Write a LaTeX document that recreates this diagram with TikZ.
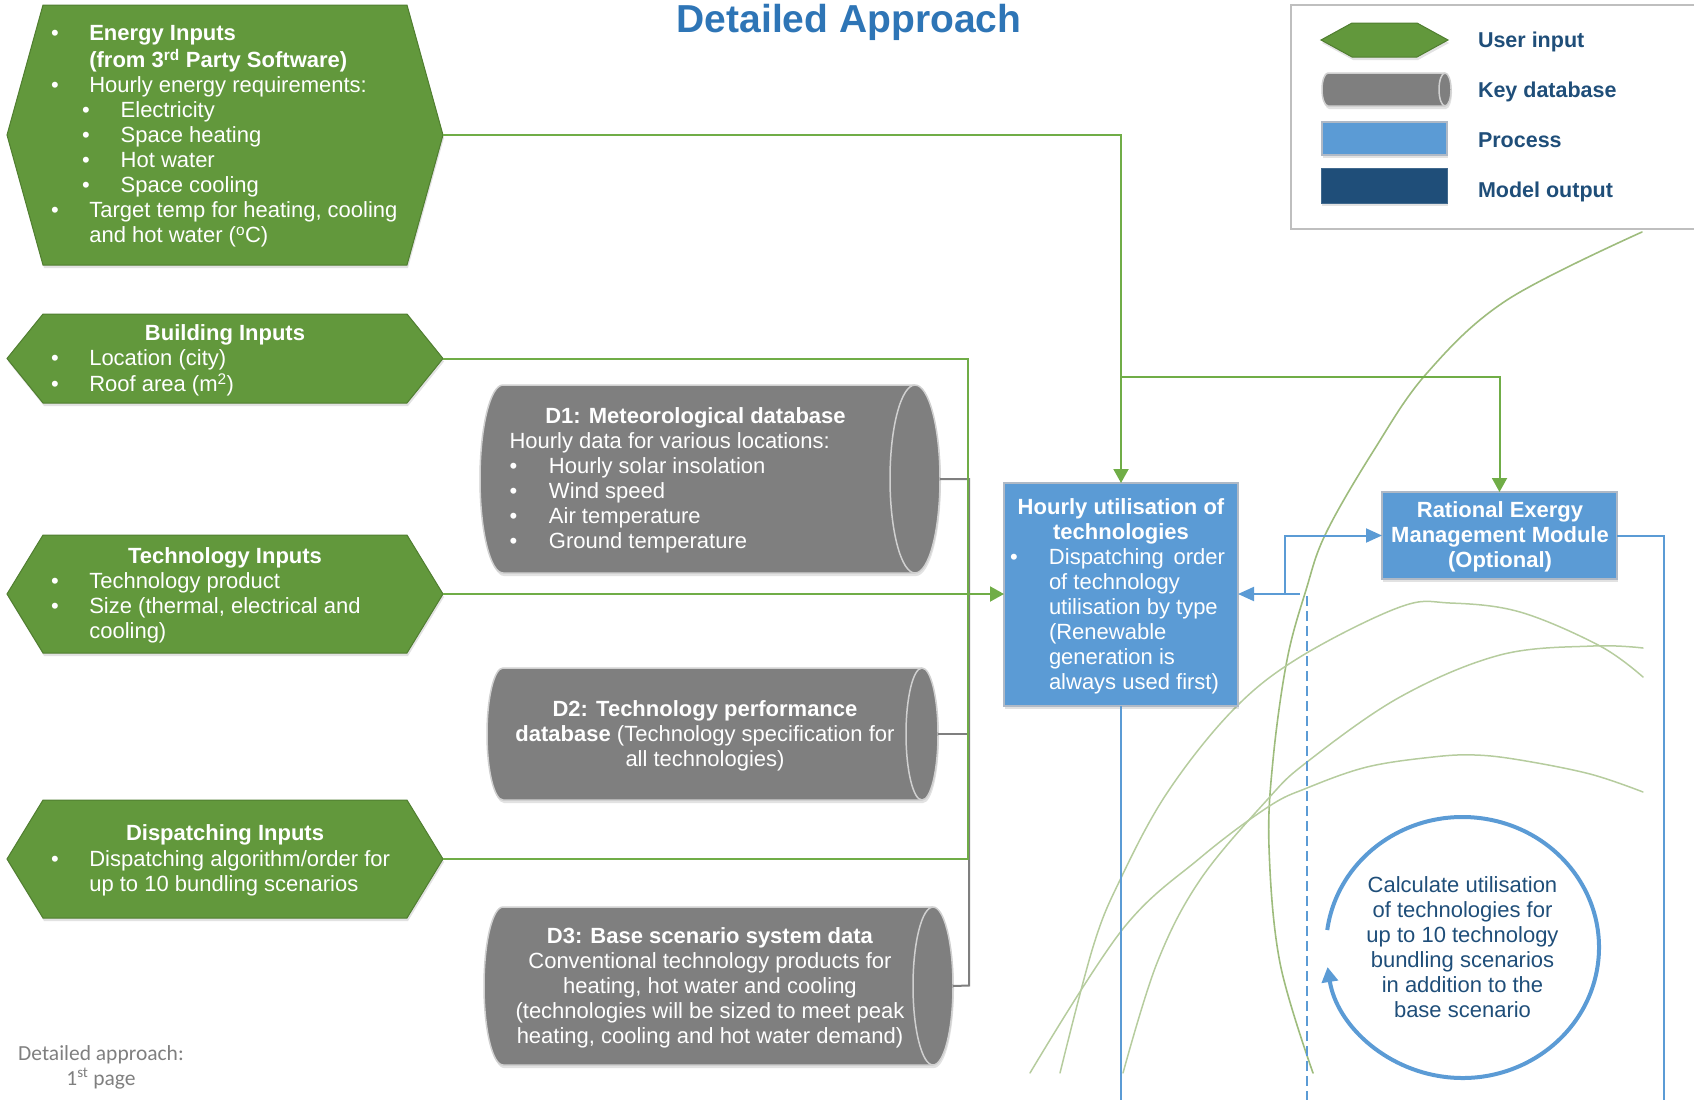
\documentclass[tikz,border=0pt]{standalone}
\usepackage{fontspec}
\setmainfont{Liberation Sans}
\newfontfamily\footfont{Carlito}
\usetikzlibrary{arrows.meta,shadows}

\definecolor{ugreen}{RGB}{98,152,60}
\definecolor{ugreenedge}{RGB}{80,126,48}
\definecolor{lgreen}{RGB}{112,173,71}
\definecolor{dbgray}{RGB}{127,127,127}
\definecolor{dbedge}{RGB}{208,208,208}
\definecolor{procblue}{RGB}{91,155,213}
\definecolor{procedge}{RGB}{175,185,198}
\definecolor{outnavy}{RGB}{31,78,121}
\definecolor{titleblue}{RGB}{46,117,182}
\definecolor{arcgreen}{RGB}{182,204,158}
\definecolor{arcgreenB}{RGB}{158,188,125}
\definecolor{footgray}{RGB}{127,127,127}
\definecolor{frame}{RGB}{191,191,191}

% bullet rows: first-level and second-level
\newcommand\lstbul[2][38.3pt]{\makebox[#1][l]{\textbullet}#2}
\newcommand\lstsub[1]{\makebox[69.7pt][l]{\hspace{31pt}\textbullet}#1}

% user-input hexagon: name, left corner x, right corner x, top y, bottom y, tip inset
\newcommand\hexin[6]{%
  \pgfmathsetmacro\hexmid{-(#4+#5)/2}%
  \filldraw[userin] (#2,-#4) -- (#3,-#4) -- ({#3+#6},\hexmid) -- (#3,-#5)
    -- (#2,-#5) -- ({#2-#6},\hexmid) -- cycle;
  \coordinate (#1-e) at ({#3+#6},\hexmid);
}
% key-database cylinder: name, left x, right x, top y, bottom y, left rx, right rx
\newcommand\dbcyl[7]{%
  \pgfmathsetmacro\cylmid{-(#4+#5)/2}%
  \pgfmathsetmacro\cylry{(#5-#4)/2}%
  \filldraw[keydb] (#2,-#4) -- (#3,-#4)
    arc[start angle=90,end angle=-90,x radius=#7,y radius=\cylry]
    -- (#2,-#5)
    arc[start angle=270,end angle=90,x radius=#6,y radius=\cylry] -- cycle;
  \draw[keydbrim] (#3,-#4) arc[start angle=90,end angle=270,x radius=#7,y radius=\cylry];
  \coordinate (#1-e) at ({#3+#7},\cylmid);
}

\begin{document}
\begin{tikzpicture}[x=1pt,y=1pt,
  every node/.style={inner sep=0pt,outer sep=0pt},
  body/.style={font=\fontsize{22}{25}\selectfont},
  bodyb/.style={font=\fontsize{22}{25}\selectfont\bfseries},
  wtxt/.style={body,text=white},
  wbold/.style={bodyb,text=white},
  navytxt/.style={body,text=outnavy},
  legtxt/.style={font=\fontsize{21.5}{25}\selectfont\bfseries,text=outnavy,anchor=base west},
  titlefont/.style={font=\fontsize{39}{45}\selectfont\bfseries,anchor=base},
  softshadow/.style={drop shadow={shadow xshift=1pt,shadow yshift=-3pt,opacity=0.16,fill=black!70}},
  userin/.style={fill=ugreen,draw=ugreenedge,line width=1pt,softshadow},
  keydb/.style={fill=dbgray,draw=dbedge,line width=1.5pt,softshadow},
  keydbrim/.style={draw=dbedge,line width=1.5pt},
  procbox/.style={rectangle,fill=procblue,draw=procedge,line width=1.5pt,softshadow},
  outbox/.style={rectangle,fill=outnavy,draw=outnavy!85,line width=1pt,softshadow},
  gconn/.style={draw=lgreen,line width=2pt},
  dconn/.style={draw=dbgray,line width=2pt},
  bconn/.style={draw=procblue,line width=2pt},
  gtip/.style={-{Triangle[length=14pt,width=15pt]}},
  btip/.style={-{Triangle[length=16pt,width=14pt]}},
  deco/.style={draw=arcgreen,line width=1.5pt,line cap=round},
  decoA/.style={draw=arcgreenB,line width=1.6pt,line cap=round},
  loopln/.style={draw=procblue,line width=4pt,-{Triangle[length=15pt,width=16pt]}}
]
\useasboundingbox (0,0) rectangle (1694,-1100);
\clip (0,0) rectangle (1694,-1100);

% ---------- decorative background arcs ----------
\draw[decoA] plot[smooth,tension=0.6] coordinates {(1642,-232) (1507,-300) (1427,-373) (1374,-450)
  (1326,-533) (1306,-590) (1287,-660) (1273,-760) (1269,-847) (1280,-963) (1313,-1073)};
\draw[deco] plot[smooth,tension=0.6] coordinates {(1030,-1073) (1122,-930) (1200,-858) (1268,-807)
  (1307,-788) (1367,-767) (1433,-757) (1475,-755) (1520,-760) (1590,-774) (1643,-792)};
\draw[deco] plot[smooth,tension=0.6] coordinates {(1060,-1073) (1093,-947) (1120,-880) (1167,-793)
  (1233,-710) (1300,-657) (1400,-607) (1450,-603) (1520,-612) (1600,-646) (1643,-677)};
\draw[deco] plot[smooth,tension=0.6] coordinates {(1123,-1073) (1157,-963) (1200,-880) (1267,-800)
  (1307,-762) (1400,-697) (1500,-655) (1593,-646) (1643,-648)};

% ---------- user inputs ----------
\hexin{energy}{43}{407}{5}{265}{36}
\hexin{bld}{43}{407}{314}{403}{36}
\hexin{tech}{43}{407}{535}{653}{36}
\hexin{disp}{43}{407}{800}{918}{36}

\node[wtxt,anchor=north west,align=left] (energy-txt) at (51,-23.2)
  {\strut\lstbul{\textbf{Energy Inputs}}\\
   \hspace*{38.3pt}\textbf{(from 3\textsuperscript{rd} Party Software)}\\
   \lstbul{Hourly energy requirements:}\\
   \lstsub{Electricity}\\
   \lstsub{Space heating}\\
   \lstsub{Hot water}\\
   \lstsub{Space cooling}\\
   \lstbul{Target temp for heating, cooling}\\
   \hspace*{38.3pt}and hot water (\textsuperscript{o}C)};

\node[wbold,anchor=base] (bld-head) at (225,-340) {Building Inputs};
\node[wtxt,anchor=north west,align=left] (bld-txt) at (51,-347.5)
  {\strut\lstbul{Location (city)}\\ \lstbul{Roof area (m\textsuperscript{2})}};

\node[wbold,anchor=base] (tech-head) at (225,-563.3) {Technology Inputs};
\node[wtxt,anchor=north west,align=left] (tech-txt) at (51,-570.8)
  {\strut\lstbul{Technology product}\\ \lstbul{Size (thermal, electrical and}\\
   \hspace*{38.3pt}cooling)};

\node[wbold,anchor=base] (disp-head) at (225,-840.7) {Dispatching Inputs};
\node[wtxt,anchor=north west,align=left] (disp-txt) at (51,-848.5)
  {\strut\lstbul{Dispatching algorithm/order for}\\ \hspace*{38.3pt}up to 10 bundling scenarios};

% ---------- key databases ----------
\dbcyl{d1}{503}{915}{385}{573}{23}{25}
\dbcyl{d2}{503}{922}{668}{800}{16}{16}
\dbcyl{d3}{503}{933}{907}{1065}{19}{20}

\node[wbold,anchor=base] (d1-head) at (695.5,-423.3) {D1: Meteorological database};
\node[wtxt,anchor=north west,align=left] (d1-txt) at (509.5,-430.8)
  {\strut Hourly data for various locations:\\
   \lstbul[39.5pt]{Hourly solar insolation}\\
   \lstbul[39.5pt]{Wind speed}\\
   \lstbul[39.5pt]{Air temperature}\\
   \lstbul[39.5pt]{Ground temperature}};

\node[wtxt,anchor=north,align=center] (d2-txt) at (705,-698.5)
  {\strut\textbf{D2: Technology performance}\\
   \textbf{database} (Technology specification for\\ all technologies)};

\node[wtxt,anchor=north,align=center] (d3-txt) at (710,-925.8)
  {\strut\textbf{D3: Base scenario system data}\\
   Conventional technology products for\\
   heating, hot water and cooling\\
   (technologies will be sized to meet peak\\
   heating, cooling and hot water demand)};

% ---------- processes ----------
\node[procbox,minimum width=234pt,minimum height=223pt] (hourly) at (1121,-594.5) {};
\node[wbold,anchor=north,align=center] (hourly-head) at (1121,-496.5)
  {\strut Hourly utilisation of\\ technologies};
\node[wtxt,anchor=north west,align=left] (hourly-txt) at (1010,-546.5)
  {\strut\lstbul[39pt]{\makebox[176pt][s]{Dispatching order}}\\
   \hspace*{39pt}of technology\\
   \hspace*{39pt}utilisation by type\\
   \hspace*{39pt}(Renewable\\
   \hspace*{39pt}generation is\\
   \hspace*{39pt}always used first)};

\node[procbox,minimum width=235pt,minimum height=87pt] (remm) at (1499.5,-535.5) {};
\node[wbold,anchor=north,align=center] (remm-txt) at (1500,-499.5)
  {\strut Rational Exergy\\ Management Module\\ (Optional)};

% ---------- connectors ----------
\coordinate (dbus-b) at (969,-985.5);
\draw[dconn] (d1-e) -| (dbus-b) -- (d3-e);
\draw[dconn] (d2-e) -- (d2-e -| dbus-b);

\coordinate (gbus-t) at (967.5,-358.5);
\coordinate (gbus-b) at (967.5,-859);
\draw[gconn] (bld-e) -- (gbus-t) -- (gbus-b) -- (disp-e);
\draw[gconn,gtip] (tech-e) -- (tech-e -| hourly.west);
\draw[gconn,gtip] (energy-e) -| (hourly.north);
\coordinate (gsplit) at (1121,-377);
\draw[gconn,gtip] (gsplit) -| (remm.north);

\coordinate (ret) at (1300,-594);
\coordinate (fork) at (1285,-594);
\coordinate (dash-t) at (1307,-596);
\coordinate (dash-b) at (1307,-1100);
\coordinate (hourly-out) at (1121,-1100);
\coordinate (remm-out) at (1664,-1100);
\draw[bconn,btip] (ret) -- (ret -| hourly.east);
\draw[bconn,btip] (fork) |- (remm.west);
\draw[bconn,dash pattern=on 10pt off 5pt] (dash-t) -- (dash-b);
\draw[bconn] (hourly.south) -- (hourly-out);
\draw[bconn] (remm.east) -| (remm-out);

% ---------- scenario loop ----------
\coordinate (loopc) at (1462.5,-947.5);
\draw[loopln] ([shift={(172.3:136.5 and 130.5)}]loopc)
  arc[start angle=172.3,end angle=-171.4,x radius=136.5,y radius=130.5];
\node[navytxt,anchor=north,align=center] (loop-txt) at (1462.5,-874.5)
  {\strut Calculate utilisation\\ of technologies for\\ up to 10 technology\\
   bundling scenarios\\ in addition to the\\ base scenario};

% ---------- legend ----------
\draw[draw=frame,line width=1.5pt] (1291,-5) rectangle (1710,-229);
\hexin{leg-hex}{1352}{1417}{23}{57}{31}
\dbcyl{leg-db}{1328}{1445}{73}{106}{6}{6}
\node[procbox,minimum width=125pt,minimum height=33pt] (leg-proc) at (1384.5,-138.5) {};
\node[outbox,minimum width=126pt,minimum height=35pt] (leg-out) at (1384,-185.5) {};
\node[legtxt] (leg-t1) at (1478,-47) {User input};
\node[legtxt] (leg-t2) at (1478,-97) {Key database};
\node[legtxt] (leg-t3) at (1478,-147) {Process};
\node[legtxt] (leg-t4) at (1478,-197) {Model output};

% ---------- title and page label ----------
\node[titlefont,text=titleblue] (title) at (849,-32) {Detailed Approach};

\node[font=\footfont\fontsize{21.5}{25}\selectfont,text=footgray,anchor=north,align=center]
  (pagelbl) at (101,-1042.5) {\strut Detailed approach:\\ 1\textsuperscript{st} page};
\end{tikzpicture}
\end{document}
